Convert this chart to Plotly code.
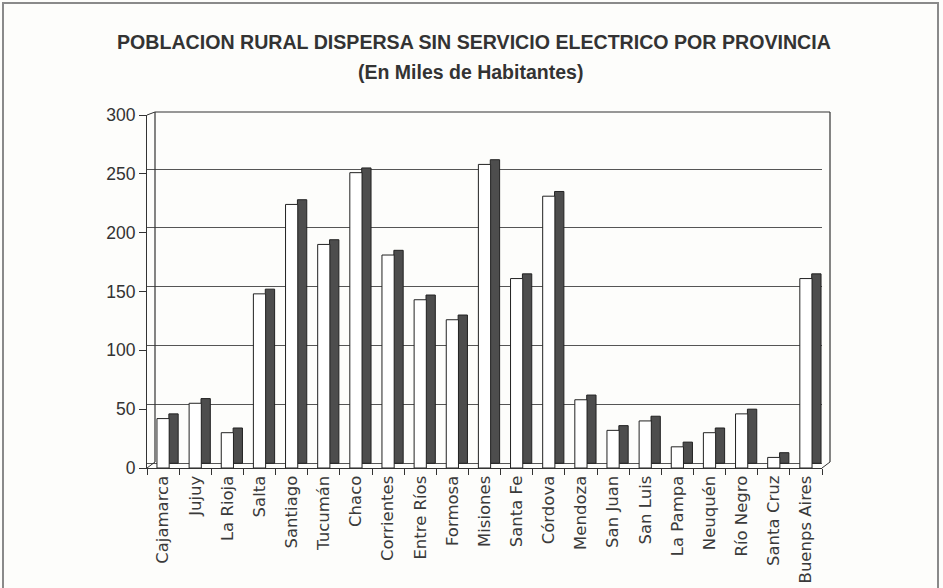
import plotly.graph_objects as go

# ---- data ----
provincias = ["Cajamarca", "Jujuy", "La Rioja", "Salta", "Santiago", "Tucumán", "Chaco",
              "Corrientes", "Entre Ríos", "Formosa", "Misiones", "Santa Fe", "Córdova",
              "Mendoza", "San Juan", "San Luis", "La Pampa", "Neuquén", "Río Negro",
              "Santa Cruz", "Buenps Aires"]
poblacion = [42, 55, 30, 148, 224, 190, 251, 181, 143, 126, 258, 161, 231,
             58, 32, 40, 18, 30, 46, 9, 161]
y_ticks = [0, 50, 100, 150, 200, 250, 300]

titulo = "POBLACION RURAL DISPERSA SIN SERVICIO ELECTRICO POR PROVINCIA"
subtitulo = "(En Miles de Habitantes)"

# ---- style ----
W, H = 943, 588
L, R, T, B = 147, 121, 115, 120
depth = 4.0          # 3D depth in value units
ink = "#333333"
side = "#4d4d4d"
font_axis = "Liberation Sans, Arial, sans-serif"
font_cat = "DejaVu Sans, sans-serif"

fig = go.Figure()

# dark side faces (drawn first, sit to the right of the white faces)
fig.add_trace(go.Bar(
    x=provincias, y=poblacion, base=[depth] * len(poblacion),
    width=0.29, offset=0.18,
    marker=dict(color=side, line=dict(color="#222222", width=1)),
    hoverinfo="skip", showlegend=False,
))
# white front faces
fig.add_trace(go.Bar(
    x=provincias, y=poblacion,
    width=0.38, offset=-0.19,
    marker=dict(color="#ffffff", line=dict(color="#222222", width=1)),
    showlegend=False,
))
# invisible trace to activate the back-wall grid axis
fig.add_trace(go.Scatter(x=[provincias[0]], y=[0], yaxis="y2", mode="markers",
                         marker=dict(opacity=0), hoverinfo="skip", showlegend=False))

shapes = []
# back wall frame (left, top, right)
bx0, bx1 = 8 / 675, 1 + 8 / 675
by1 = 1 + 3 / 353
fy = 6 / 353
shapes.append(dict(type="line", xref="paper", yref="paper", x0=bx0, x1=bx0,
                   y0=fy, y1=by1, line=dict(color=ink, width=1.2)))
shapes.append(dict(type="line", xref="paper", yref="paper", x0=bx0, x1=bx1,
                   y0=by1, y1=by1, line=dict(color=ink, width=1.2)))
shapes.append(dict(type="line", xref="paper", yref="paper", x0=bx1, x1=bx1,
                   y0=fy, y1=by1, line=dict(color=ink, width=1.2)))
# corner connectors front -> back
shapes.append(dict(type="line", xref="paper", yref="paper", x0=0, x1=bx0,
                   y0=1, y1=by1, line=dict(color=ink, width=1)))
shapes.append(dict(type="line", xref="paper", yref="paper", x0=0, x1=bx0,
                   y0=0, y1=fy, line=dict(color=ink, width=1)))
shapes.append(dict(type="line", xref="paper", yref="paper", x0=1, x1=bx1,
                   y0=0, y1=fy, line=dict(color=ink, width=1)))
# outer frame of the page
shapes.append(dict(type="rect", xref="paper", yref="paper",
                   x0=-144 / 675, x1=1 + 116 / 675, y0=-130 / 353, y1=1 + 112 / 353,
                   line=dict(color="#8a8a8a", width=2)))

fig.update_layout(
    width=W, height=H,
    margin=dict(l=L, r=R, t=T, b=B, autoexpand=False),
    paper_bgcolor="#fdfdfb", plot_bgcolor="rgba(0,0,0,0)",
    barmode="overlay",
    showlegend=False,
    shapes=shapes,
    xaxis=dict(
        type="category", range=[-0.5, len(provincias) - 0.5],
        showline=True, linecolor=ink, linewidth=1.2,
        ticks="outside", tickson="boundaries", ticklen=6, tickcolor=ink,
        tickangle=-90, showgrid=False,
        tickfont=dict(family=font_cat, size=16.5, color="#3a3a3a"),
    ),
    yaxis=dict(
        range=[0, 300], tickvals=y_ticks, showgrid=False, zeroline=False,
        showline=True, linecolor=ink, linewidth=1.2,
        ticks="outside", ticklen=7, tickcolor=ink,
        tickfont=dict(family=font_axis, size=17.5, color="#333333"),
    ),
    yaxis2=dict(
        overlaying="y", range=[-depth, 300 - depth], tickvals=y_ticks[:-1],
        showgrid=True, gridcolor="#555555", gridwidth=1.2,
        showticklabels=False, ticks="", zeroline=False, showline=False,
    ),
    annotations=[
        dict(text="<b>" + titulo + "</b>", xref="paper", yref="paper",
             x=(474 - L) / 675, y=(468 - 42) / 353, showarrow=False,
             xanchor="center", yanchor="middle",
             font=dict(family=font_axis, size=19.6, color="#333333")),
        dict(text="<b>" + subtitulo + "</b>", xref="paper", yref="paper",
             x=(470 - L) / 675, y=(468 - 72) / 353, showarrow=False,
             xanchor="center", yanchor="middle",
             font=dict(family=font_axis, size=19.5, color="#333333")),
    ],
)

fig.write_html("out.html")
